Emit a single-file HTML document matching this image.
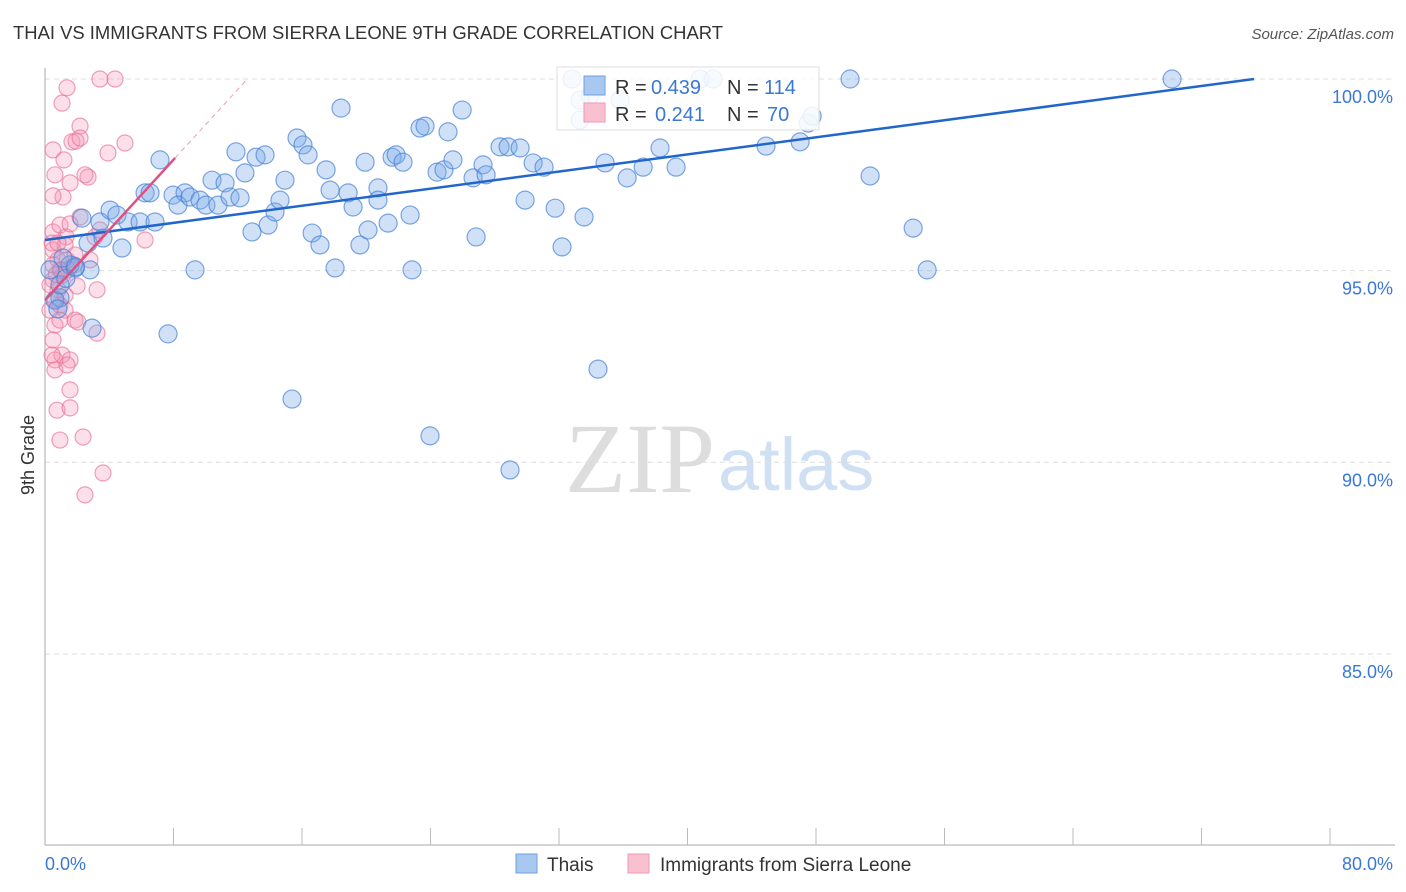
<!DOCTYPE html>
<html><head><meta charset="utf-8"><style>
body{margin:0;background:#fff;font-family:"Liberation Sans",sans-serif;}
svg{display:block}
</style></head><body>
<svg id="chart" width="1406" height="892" xmlns="http://www.w3.org/2000/svg">
<text x="13" y="39" font-size="18" fill="#333" textLength="710" lengthAdjust="spacingAndGlyphs">THAI VS IMMIGRANTS FROM SIERRA LEONE 9TH GRADE CORRELATION CHART</text>
<text x="1394" y="39" font-size="15" fill="#555" text-anchor="end" font-style="italic">Source: ZipAtlas.com</text>
<text x="715" y="492" font-size="100" fill="#ddd" text-anchor="end" font-family="Liberation Serif, serif">ZIP</text>
<text x="718" y="490" font-size="74" fill="#cfe0f3">atlas</text>
<g id="grid"></g>
<g id="axes"></g>
<g id="pts"></g>
<g id="trends"></g>
<text transform="translate(34,455) rotate(-90)" font-size="18" fill="#333" text-anchor="middle">9th Grade</text>
<g>
<rect x="557" y="67" width="262" height="63" fill="#fff" fill-opacity="0.85" stroke="#ddd"/>
<rect x="584" y="76" width="21" height="19" fill="#a9c8f0" stroke="#6fa0e0"/>
<rect x="584" y="103" width="21" height="19" fill="#f9c0d0" stroke="#ee9ab4"/>
<text x="615" y="94" font-size="20" fill="#333">R =</text>
<text x="651" y="94" font-size="20" fill="#3a78d6">0.439</text>
<text x="727" y="94" font-size="20" fill="#333">N =</text>
<text x="764" y="94" font-size="20" fill="#3a78d6">114</text>
<text x="615" y="121" font-size="20" fill="#333">R =</text>
<text x="655" y="121" font-size="20" fill="#3a78d6">0.241</text>
<text x="727" y="121" font-size="20" fill="#333">N =</text>
<text x="767" y="121" font-size="20" fill="#3a78d6">70</text>
</g>
<g>
<rect x="516" y="854" width="21" height="19" fill="#a9c8f0" stroke="#6fa0e0"/>
<text x="547" y="871" font-size="19" fill="#333">Thais</text>
<rect x="628" y="854" width="21" height="19" fill="#f9c0d0" stroke="#ee9ab4"/>
<text x="660" y="871" font-size="19" fill="#333">Immigrants from Sierra Leone</text>
</g>
</svg>
<script>
const yTicks=[100,95,90,85];
const xTickLabels=["0.0%","80.0%"];
const thaiX=[7.16,6.23,6.54,7.97,8.72,8.28,9.03,9.65,10.02,10.40,10.77,11.21,11.52,12.14,11.89,12.45,13.14,13.70,12.89,13.89,14.32,14.63,14.94,15.69,16.06,16.38,16.63,17.12,17.50,17.75,18.06,18.43,18.87,19.18,19.61,19.93,20.11,20.73,20.73,21.36,21.61,21.86,22.29,22.73,22.85,23.35,23.66,24.41,24.84,25.09,25.40,25.97,26.65,26.84,27.27,27.46,28.33,28.83,29.58,29.89,30.39,31.07,31.76,32.19,32.81,33.31,33.56,33.94,34.43,34.87,36.24,37.24,38.29,39.29,40.78,41.59,44.89,47.01,47.51,47.76,50.12,51.37,54.05,54.92,70.17,23.97,28.95,15.38,7.66,9.34,2.80,1.87,0.93,1.56,1.12,2.93,2.30,2.68,3.42,3.61,4.05,4.48,4.79,5.17,5.92,6.85,0.62,0.93,0.31,33.31,35.8,1.3,0.8,1.9];
const thaiY=[97.89,97.03,97.03,96.97,97.03,96.71,96.92,96.84,96.71,97.36,96.71,97.29,96.92,96.90,98.10,97.55,97.96,98.02,96.01,96.19,96.53,96.84,97.36,98.46,98.28,98.02,95.98,95.67,97.63,97.10,95.07,99.24,97.03,96.66,95.67,97.83,96.06,97.16,96.84,96.24,97.96,98.02,97.83,96.45,95.02,98.72,98.77,97.57,97.63,98.62,97.89,99.19,97.42,95.88,97.76,97.50,98.23,98.23,98.20,96.84,97.81,97.70,96.63,95.62,100,98.93,96.40,99.58,92.43,97.81,97.42,97.70,98.20,97.70,100,100,98.25,98.36,98.85,99.03,100,97.47,96.11,95.02,100,90.69,89.80,91.65,93.35,95.02,95.02,95.07,94.29,95.15,95.33,93.50,96.37,95.72,96.27,95.85,96.58,96.45,95.59,96.27,96.27,96.27,94.23,94.63,95.02,99.45,99.45,94.8,94.0,95.1];
const slX=[1.37,1.06,2.18,3.42,4.36,1.68,1.93,0.50,1.18,0.62,1.56,2.68,1.12,0.50,3.92,4.98,2.49,0.50,0.93,1.31,1.56,2.18,3.11,3.42,6.23,0.50,0.81,1.25,1.37,1.81,0.93,0.50,0.81,0.62,0.93,1.25,0.62,0.50,0.62,0.62,1.06,1.56,1.87,2.05,3.24,3.24,1.56,0.75,1.56,0.93,2.37,3.61,2.49,0.50,0.31,0.31,1.25,1.87,2.80,0.44,0.81,1.12,0.44,1.37,2.18,0.93,1.43,0.7,1.0,2.0];
const slY=[99.77,99.37,98.77,100,100,98.36,98.38,98.15,97.89,97.50,97.29,97.44,96.92,96.95,98.07,98.33,97.50,96.01,96.19,95.88,96.22,96.40,95.88,96.06,95.80,95.54,95.28,95.67,95.28,95.15,95.02,94.76,94.50,94.23,94.10,93.97,93.58,93.19,92.67,92.41,92.80,92.67,93.71,93.66,94.50,93.37,91.89,91.36,91.42,90.58,90.66,89.72,89.15,95.15,94.63,93.97,94.36,95.41,95.28,95.72,95.72,94.89,92.80,92.54,98.46,93.71,95.02,94.9,95.0,94.6];
const thaiTrend=[95.8,0.0558];
const slTrend=[94.23,0.458];
const NS="http://www.w3.org/2000/svg";
const X0=45,X1=1330,Y100=79,PXPER=38.33;
const xs=v=>X0+(v/80)*(X1-X0);
const ys=v=>Y100+(100-v)*PXPER;
function mk(tag,attrs,parent){const e=document.createElementNS(NS,tag);for(const k in attrs)e.setAttribute(k,attrs[k]);parent.appendChild(e);return e;}
const grid=document.getElementById('grid'),axes=document.getElementById('axes'),pts=document.getElementById('pts'),tr=document.getElementById('trends');
yTicks.forEach(t=>{
  const l=mk('line',{x1:X0,x2:1395,y1:ys(t),y2:ys(t),stroke:'#ddd','stroke-dasharray':'5,4'},grid);
  
  
  const tx=mk('text',{x:1393,y:ys(t)+24,'font-size':18,fill:'#3a78d6','text-anchor':'end'},grid);
  tx.textContent=t.toFixed(1)+'%';
  
  
});
const ya=mk('line',{x1:X0,x2:X0,y1:68,y2:845,stroke:'#aaa'},axes);


const xa=mk('line',{x1:X0,x2:1395,y1:845,y2:845,stroke:'#aaa'},axes);


for(let i=1;i<=10;i++){const t=mk('line',{x1:xs(i*8),x2:xs(i*8),y1:828,y2:845,stroke:'#bbb'},axes);

}
[[0,'start',45],[80,'end',1393]].forEach((d,i)=>{const t=mk('text',{x:d[2],y:870,'font-size':18,fill:'#3a78d6','text-anchor':d[1]},axes);t.textContent=xTickLabels[i];

});
slX.forEach((v,i)=>{const c=mk('circle',{cx:xs(v),cy:ys(slY[i]),r:8,fill:'rgba(244,150,180,0.3)',stroke:'rgba(232,110,150,0.65)','stroke-width':1.2},pts);

});
thaiX.forEach((v,i)=>{const c=mk('circle',{cx:xs(v),cy:ys(thaiY[i]),r:9,fill:'rgba(120,170,232,0.35)',stroke:'rgba(70,130,215,0.7)','stroke-width':1.2},pts);

});
const tEnd=(100-thaiTrend[0])/thaiTrend[1];
const tl=mk('line',{x1:xs(0),y1:ys(thaiTrend[0]),x2:xs(tEnd),y2:ys(100),stroke:'#2266cc','stroke-width':2.5},tr);


const sEnd=(100-slTrend[0])/slTrend[1];
const sl=mk('line',{x1:xs(0),y1:ys(slTrend[0]),x2:xs(8.1),y2:ys(slTrend[0]+slTrend[1]*8.1),stroke:'#e0507f','stroke-width':2.5},tr);


const sd=mk('line',{x1:xs(8.1),y1:ys(slTrend[0]+slTrend[1]*8.1),x2:xs(sEnd),y2:ys(100),stroke:'#e8a0b8','stroke-width':1,'stroke-dasharray':'5,4'},tr);


</script>
</body></html>
